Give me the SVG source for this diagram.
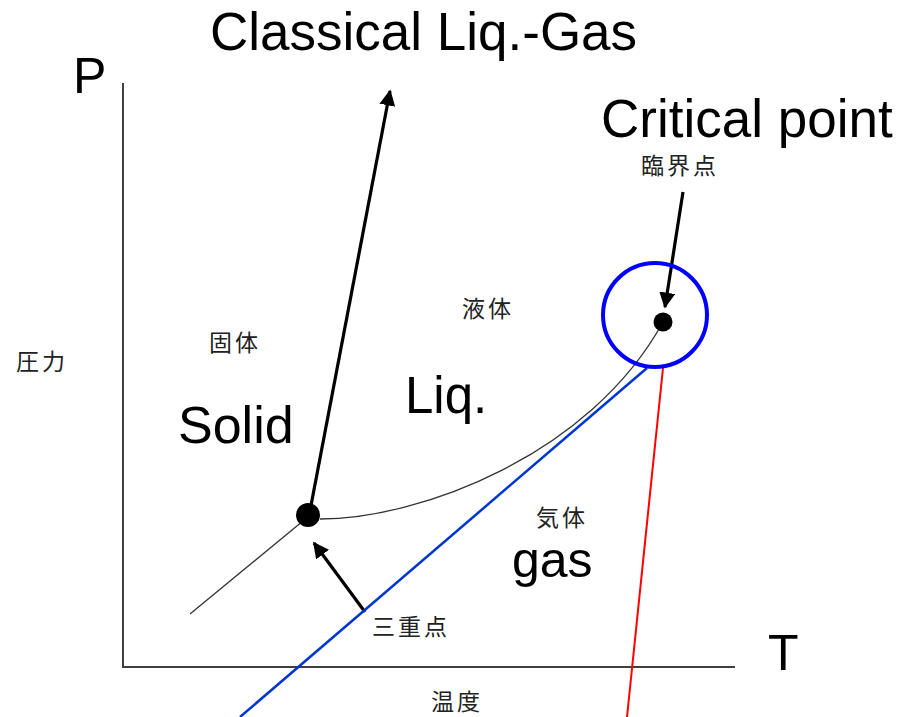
<svg xmlns="http://www.w3.org/2000/svg" width="906" height="717" viewBox="0 0 906 717">
<style>
.en{font-family:"Liberation Sans",Arial,sans-serif;fill:#000}
.jp{font-family:"Noto Sans CJK JP","Noto Sans CJK SC",sans-serif;font-size:23px;fill:#222;letter-spacing:3px}
.axis{stroke:#404040;stroke-width:2;fill:none}
.thin{stroke:#333;stroke-width:1.3;fill:none}
.arrow{stroke:#000;stroke-width:3.2;fill:none;marker-end:url(#ah)}
</style>
<defs>
<marker id="ah" viewBox="0 0 10 10" refX="9" refY="5" markerWidth="5" markerHeight="5" markerUnits="strokeWidth" orient="auto">
<path d="M0,0 L10,5 L0,10 z" fill="#000"/>
</marker>
</defs>
<rect width="906" height="717" fill="#fff"/>
<g id="axes">
<line class="axis" x1="123" y1="83" x2="123" y2="667"/>
<line class="axis" x1="122" y1="667" x2="735" y2="667"/>
</g>
<g id="connectors">
<line class="thin" x1="190" y1="614" x2="309" y2="516"/>
<path class="thin" d="M320,519 C420,519 590,455 663,322"/>
<line class="arrow" x1="309" y1="516" x2="390" y2="91"/>
<line class="arrow" x1="683" y1="192" x2="665" y2="307"/>
<line class="arrow" x1="365" y1="612" x2="314" y2="543"/>
<line x1="240" y1="717" x2="647" y2="368" stroke="#0036d0" stroke-width="2.5"/>
<line x1="663" y1="368" x2="627" y2="717" stroke="#ff0000" stroke-width="2"/>
</g>
<g id="triple-point"><circle cx="308" cy="515" r="12" fill="#000"/></g>
<g id="critical-point"><circle cx="663" cy="322" r="9.5" fill="#000"/></g>
<g id="critical-circle"><circle cx="655" cy="315" r="52" fill="none" stroke="#0000ff" stroke-width="4"/></g>
<g id="labels">
<text class="en" x="210" y="50" font-size="53">Classical Liq.-Gas</text>
<text class="en" x="73" y="93" font-size="50">P</text>
<text class="en" x="601" y="137" font-size="53">Critical point</text>
<text class="en" x="178" y="443" font-size="52">Solid</text>
<text class="en" x="405" y="413" font-size="51">Liq.</text>
<text class="en" x="512" y="577" font-size="50">gas</text>
<text class="en" x="768" y="670" font-size="50">T</text>
<text class="jp" x="641" y="174">臨界点</text>
<text class="jp" x="462" y="317">液体</text>
<text class="jp" x="209" y="351">固体</text>
<text class="jp" x="16" y="370">圧力</text>
<text class="jp" x="536" y="526">気体</text>
<text class="jp" x="372" y="635">三重点</text>
<text class="jp" x="431" y="710">温度</text>
</g>
</svg>
